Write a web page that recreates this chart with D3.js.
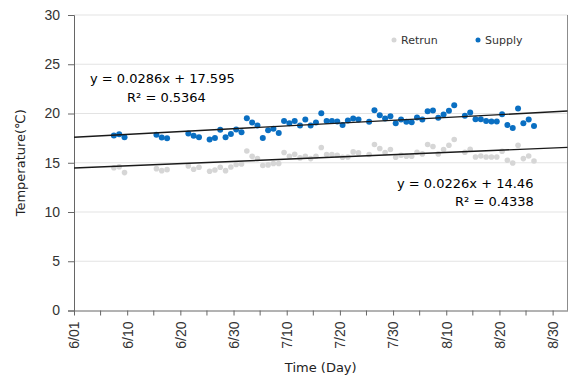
<!DOCTYPE html>
<html>
<head>
<meta charset="utf-8">
<script src="https://cdn.jsdelivr.net/npm/d3@7"></script>
<style>
    body { margin: 0; background: #fff; }
    svg { display: block; font-family: "DejaVu Sans", sans-serif; }
</style>
</head>
<body>
<div id="chart"></div>
<script>
// days counted from the 6/01 tick
const days = [7.5, 8.5, 9.5, 15.5, 16.5, 17.5,
    21.5, 22.5, 23.5, 25.5, 26.5, 27.5, 28.5, 29.5, 30.5, 31.5, 32.5, 33.5, 34.5, 35.5, 36.5, 37.5,
    38.5, 39.5, 40.5, 41.5, 42.5, 43.5, 44.5, 45.5, 46.5, 47.5, 48.5, 49.5, 50.5, 51.5, 52.5, 53.5, 55.5,
    56.5, 57.5, 58.5, 59.5, 60.5, 61.5, 62.5, 63.5, 64.5, 65.5, 66.5, 67.5, 68.5, 69.5, 70.5, 71.5, 73.5,
    74.5, 75.5, 76.5, 77.5, 78.5, 79.5, 80.5, 81.5, 82.5, 83.5, 84.5, 85.5, 86.5];

const supply = [17.76, 17.9, 17.6, 17.83, 17.56, 17.49,
    17.97, 17.73, 17.59, 17.36, 17.52, 18.34, 17.59, 17.93, 18.38, 18.1, 19.53, 19.09, 18.78, 17.52, 18.3, 18.44,
    18.03, 19.25, 19.02, 19.25, 18.78, 19.39, 18.78, 19.09, 20.03, 19.25, 19.25, 19.19, 18.84, 19.29, 19.5, 19.39, 19.15,
    20.34, 19.83, 19.5, 19.73, 19.02, 19.39, 19.15, 19.12, 19.6, 19.39, 20.24, 20.31, 19.56, 19.9, 20.27, 20.85, 19.76,
    20.1, 19.42, 19.42, 19.25, 19.19, 19.19, 19.93, 18.84, 18.54, 20.51, 19.02, 19.39, 18.74];

const retrun = [14.5, 14.6, 14.0, 14.4, 14.2, 14.3,
    14.68, 14.34, 14.54, 14.14, 14.27, 14.54, 14.2, 14.57, 14.82, 14.88, 16.2, 15.66, 15.42, 14.72, 14.78, 14.92,
    14.92, 16.04, 15.66, 15.86, 15.49, 15.66, 15.42, 15.66, 16.55, 15.83, 15.83, 15.76, 15.56, 15.59, 16.1, 16.0, 15.83,
    16.85, 16.44, 16.04, 16.34, 15.56, 15.76, 15.66, 15.66, 16.07, 15.9, 16.85, 16.65, 15.9, 16.34, 16.78, 17.36, 16.07,
    16.37, 15.59, 15.69, 15.59, 15.59, 15.59, 16.17, 15.25, 14.98, 16.78, 15.42, 15.69, 15.18];

const tickDays = [0, 10, 20, 30, 40, 50, 60, 70, 80, 90];
const tickLabels = ["6/01", "6/10", "6/20", "6/30", "7/10", "7/20", "7/30", "8/10", "8/20", "8/30"];
const minorDays = [5, 15, 25, 35, 45, 55, 65, 75, 85];
const yTicks = [0, 5, 10, 15, 20, 25, 30];

const trends = [
    { slope: 0.0286, intercept: 17.595, eq: "y = 0.0286x + 17.595", r2: "R² = 0.5364" },
    { slope: 0.0226, intercept: 14.46, eq: "y = 0.0226x + 14.46", r2: "R² = 0.4338" }
];

const width = 581, height = 377;
const margin = { top: 15, right: 13.5, bottom: 66.5, left: 74 };
const chartWidth = width - margin.left - margin.right;
const chartHeight = height - margin.top - margin.bottom;

const svg = d3.select("#chart").append("svg")
    .attr("width", width)
    .attr("height", height);

const g = svg.append("g")
    .attr("transform", `translate(${margin.left},${margin.top})`);

const x = d3.scaleLinear().domain([0, 92.8]).range([0, chartWidth]);
const y = d3.scaleLinear().domain([0, 30]).range([chartHeight, 0]);

// gridlines
g.selectAll(".grid")
    .data(yTicks.slice(1))
    .enter()
    .append("line")
    .attr("x1", 0)
    .attr("x2", chartWidth)
    .attr("y1", d => y(d))
    .attr("y2", d => y(d))
    .attr("stroke", "#e3e3e3");

// right border
g.append("line")
    .attr("x1", chartWidth).attr("x2", chartWidth)
    .attr("y1", 0).attr("y2", chartHeight)
    .attr("stroke", "#8c8c8c");

// y axis
const yAxis = g.append("g")
    .call(d3.axisLeft(y).tickValues(yTicks).tickSize(6).tickPadding(8));
yAxis.select(".domain").attr("stroke", "#666");
yAxis.selectAll(".tick line").attr("stroke", "#666");
yAxis.selectAll(".tick text")
    .attr("fill", "#333")
    .style("font-size", "14px");

// x axis
const xAxis = g.append("g")
    .attr("transform", `translate(0,${chartHeight})`)
    .call(d3.axisBottom(x)
        .tickValues(tickDays)
        .tickFormat((d, i) => tickLabels[i])
        .tickSize(5)
        .tickSizeOuter(0));
xAxis.select(".domain").attr("stroke", "#666");
xAxis.selectAll(".tick line").attr("stroke", "#666");
xAxis.selectAll(".tick text")
    .attr("fill", "#333")
    .style("font-size", "14px")
    .attr("transform", "rotate(-90)")
    .attr("text-anchor", "end")
    .attr("x", -11)
    .attr("y", 0)
    .attr("dy", "0.35em");

g.append("g")
    .attr("transform", `translate(0,${chartHeight})`)
    .selectAll("line")
    .data(minorDays)
    .enter()
    .append("line")
    .attr("x1", d => x(d))
    .attr("x2", d => x(d))
    .attr("y1", 0)
    .attr("y2", 5)
    .attr("stroke", "#666");

// axis titles
svg.append("text")
    .attr("x", margin.left + chartWidth / 2)
    .attr("y", 372)
    .attr("text-anchor", "middle")
    .attr("fill", "#222")
    .style("font-size", "13px")
    .text("Time (Day)");

svg.append("text")
    .attr("transform", `translate(25,${margin.top + chartHeight / 2}) rotate(-90)`)
    .attr("text-anchor", "middle")
    .attr("fill", "#222")
    .style("font-size", "13px")
    .text("Temperature(℃)");

// points
g.selectAll(".ret")
    .data(days)
    .enter()
    .append("circle")
    .attr("class", "ret")
    .attr("cx", d => x(d))
    .attr("cy", (d, i) => y(retrun[i]))
    .attr("r", 2.8)
    .attr("fill", "#d6d6d6");

g.selectAll(".sup")
    .data(days)
    .enter()
    .append("circle")
    .attr("class", "sup")
    .attr("cx", d => x(d))
    .attr("cy", (d, i) => y(supply[i]))
    .attr("r", 3)
    .attr("fill", "#0a6fc2");

// trendlines
const xDom = x.domain();
g.selectAll(".trend")
    .data(trends)
    .enter()
    .append("line")
    .attr("x1", x(xDom[0]))
    .attr("x2", x(xDom[1]))
    .attr("y1", d => y(d.intercept + d.slope * xDom[0]))
    .attr("y2", d => y(d.intercept + d.slope * xDom[1]))
    .attr("stroke", "#1a1a1a")
    .attr("stroke-width", 1.4);

// equations
const eqPos = [
    { x: 90, y: 83, rx: 127, ry: 102 },
    { x: 397, y: 188, rx: 455, ry: 206 }
];
trends.forEach((t, i) => {
    svg.append("text")
        .attr("x", eqPos[i].x).attr("y", eqPos[i].y)
        .attr("fill", "#000")
        .style("font-size", "13px")
        .text(t.eq);
    svg.append("text")
        .attr("x", eqPos[i].rx).attr("y", eqPos[i].ry)
        .attr("fill", "#000")
        .style("font-size", "13px")
        .text(t.r2);
});

// legend
const legend = [
    { name: "Retrun", color: "#d6d6d6", x: 394 },
    { name: "Supply", color: "#0a6fc2", x: 478 }
];
const lg = svg.selectAll(".legend")
    .data(legend)
    .enter()
    .append("g")
    .attr("transform", d => `translate(${d.x},40)`);
lg.append("circle").attr("r", 2.5).attr("fill", d => d.color);
lg.append("text")
    .attr("x", 7)
    .attr("dy", "0.35em")
    .attr("fill", "#333")
    .style("font-size", "11px")
    .text(d => d.name);
</script>
</body>
</html>
